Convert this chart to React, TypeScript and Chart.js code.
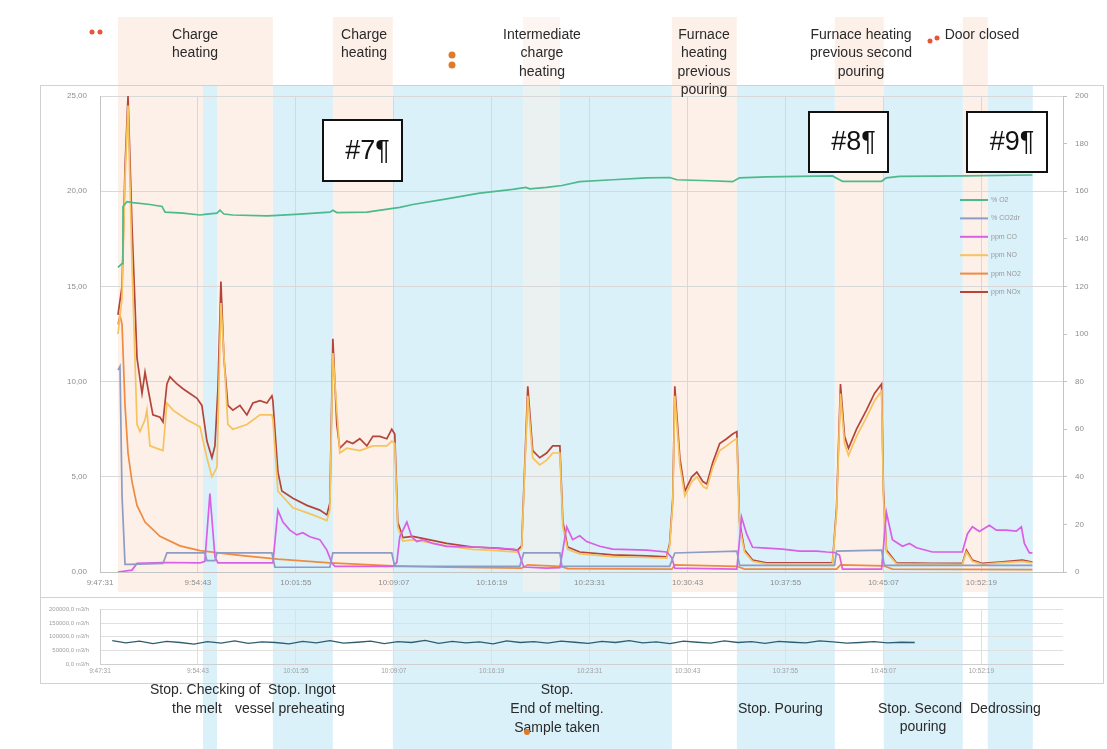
import React, { useEffect, useRef } from 'react';
import { Chart, registerables } from 'chart.js';

Chart.register(...registerables);

// ---------- time axis ----------
const START_CLOCK = [9, 47, 31];
const TICK_MINUTES = [0, 7.2, 14.4, 21.6, 28.8, 36, 43.2, 50.4, 57.6, 64.8];
const X_END_MIN = 70.8;

// ---------- main chart series: [minutes since 9:47:31, value] ----------
const O2: [number, number][] = [
  [1.32, 16.0], [1.62, 16.2], [1.69, 19.2], [1.98, 19.45], [2.42, 19.4], [3.67, 19.3], [4.56, 19.2],
  [4.78, 18.9], [6.1, 18.85], [7.35, 18.75], [7.86, 18.8], [8.6, 18.85], [8.82, 19.0], [9.11, 18.8],
  [9.77, 18.75], [12.27, 18.7], [12.71, 18.72], [14.69, 18.8], [16.9, 18.9], [17.12, 19.0], [17.41, 18.88],
  [19.62, 18.9], [21.53, 19.1], [22.04, 19.15], [23.0, 19.3], [25.49, 19.6], [27.92, 19.9], [30.34, 20.1],
  [31.3, 20.2], [31.6, 20.12], [32.84, 20.2], [33.96, 20.3], [35.27, 20.5], [37.69, 20.6], [40.19, 20.7],
  [41.88, 20.72], [42.41, 20.6], [44.83, 20.55], [46.51, 20.5], [47.02, 20.7], [49.0, 20.75], [51.43, 20.78],
  [53.85, 20.8], [54.37, 20.6], [54.59, 20.52], [57.46, 20.52], [57.82, 20.7], [58.78, 20.78], [63.7, 20.8],
  [68.55, 20.85],
];

const CO2DR: [number, number][] = [
  [1.32, 10.6], [1.47, 10.8], [1.62, 4.0], [1.84, 0.4], [2.2, 0.4], [4.63, 0.45], [4.92, 1.0], [7.71, 1.0],
  [7.86, 0.6], [8.45, 0.6], [8.6, 1.0], [12.64, 1.0], [12.86, 0.25], [16.9, 0.25], [17.12, 1.0], [21.45, 1.0],
  [21.67, 0.3], [30.86, 0.3], [31.15, 1.0], [33.81, 1.0], [33.96, 0.3], [41.88, 0.3], [42.26, 1.0],
  [46.82, 1.1], [47.02, 0.35], [54.0, 0.35], [54.15, 1.1], [57.46, 1.15], [57.67, 0.35], [68.55, 0.35],
];

const CO: [number, number][] = [
  [1.32, 0], [2.35, 0.8], [2.72, 3.6], [4.63, 4.0], [7.35, 3.8], [7.71, 4.5], [8.08, 33], [8.45, 6.4],
  [8.67, 3.8], [12.71, 3.8], [13.08, 26], [13.45, 21], [13.96, 17.6], [14.47, 15.6], [14.91, 16.5],
  [15.43, 14.8], [16.16, 13.6], [16.68, 9.2], [17.05, 3.8], [17.27, 2.4], [21.53, 2.4], [21.82, 4],
  [22.04, 14.8], [22.56, 21], [22.92, 14.8], [23.29, 12.8], [23.73, 13.6], [24.47, 12], [25.49, 10.8],
  [27.92, 10.4], [30.34, 9.6], [30.71, 9.2], [31.15, 2.1], [32.84, 1.6], [33.81, 1.8], [34.31, 19],
  [34.75, 13.6], [35.27, 15.2], [35.78, 12.8], [36.74, 10.8], [37.69, 9.6], [40.19, 9.2], [41.66, 8.4],
  [42.04, 6], [42.26, 1.6], [46.82, 1.2], [47.17, 23], [47.54, 16], [47.98, 10.4], [49.0, 10], [50.18, 9.6],
  [51.43, 8.8], [52.68, 8.8], [53.42, 8.4], [54.0, 8.2], [54.37, 7], [54.59, 1.2], [57.46, 1.2], [57.82, 25],
  [58.26, 13.6], [59.0, 10.8], [59.51, 12], [60.03, 10.2], [61.2, 8.4], [62.45, 8.4], [63.4, 8.4],
  [63.77, 16], [64.14, 19], [64.65, 17], [65.39, 19.6], [65.9, 17.6], [66.64, 17.6], [67.37, 17.2],
  [67.74, 19], [67.96, 12], [68.33, 8], [68.55, 8],
];

const NO: [number, number][] = [
  [1.32, 100], [1.62, 115], [1.84, 165], [2.06, 196], [2.35, 130], [2.72, 62], [2.94, 59], [3.31, 64],
  [3.45, 68], [3.67, 53], [4.63, 51], [4.92, 71], [5.36, 68], [6.39, 64], [7.35, 61], [7.86, 48], [8.23, 40],
  [8.6, 44], [8.89, 113], [9.4, 62], [9.77, 60], [10.8, 62], [11.76, 66], [12.64, 66], [12.71, 64],
  [13.08, 34], [14.18, 27], [15.65, 24], [16.68, 21.6], [16.9, 26], [17.12, 92], [17.63, 50], [18.15, 52],
  [19.1, 51], [20.06, 53], [21.09, 53], [21.45, 55], [21.67, 54], [21.89, 19], [22.26, 13], [23.0, 13.5],
  [24.25, 12.3], [25.49, 11], [27.4, 9.5], [29.17, 9], [30.71, 8.4], [31.0, 10], [31.45, 74], [31.81, 48],
  [32.33, 45], [32.84, 47], [33.28, 50], [33.81, 50], [34.03, 19], [34.38, 9.5], [35.27, 7.6], [37.69, 6.5],
  [40.19, 6.1], [41.66, 5.8], [41.88, 11], [42.11, 29], [42.26, 74], [42.63, 45], [43.0, 32], [43.51, 38],
  [43.88, 40], [44.32, 36], [44.61, 35], [45.05, 44], [45.56, 51], [46.07, 53], [46.51, 55], [46.82, 56],
  [47.02, 19], [47.39, 8.4], [47.98, 4.5], [49.0, 3.4], [53.85, 3.4], [54.15, 25], [54.44, 75], [54.74, 54],
  [55.03, 49], [55.62, 57], [56.35, 65], [56.94, 72], [57.46, 76], [57.6, 31], [57.82, 8.4], [58.56, 3.4],
  [63.4, 3.2], [63.7, 8.4], [64.14, 4.5], [64.87, 3.2], [66.12, 3.8], [67.81, 4.5], [68.55, 3.8],
];

const NO2: [number, number][] = [
  [1.32, 104], [1.47, 108], [1.62, 104], [1.84, 70], [2.06, 50], [2.35, 38], [2.72, 28], [3.31, 21],
  [4.41, 15], [5.88, 11], [7.35, 9], [10.29, 7], [13.08, 5.4], [16.9, 3.8], [21.53, 2.6], [25.49, 2.0],
  [31.0, 1.6], [31.45, 3], [33.81, 2.4], [34.38, 1.4], [42.04, 1.2], [42.26, 3], [46.82, 2.4], [47.39, 1.2],
  [54.15, 1.2], [54.44, 3], [57.6, 2.6], [58.26, 1.2], [68.55, 1.0],
];

const NOX: [number, number][] = [
  [1.32, 108], [1.62, 120], [1.84, 170], [2.06, 200], [2.35, 146], [2.72, 90], [3.09, 75], [3.31, 84],
  [3.53, 77], [3.89, 66], [4.41, 65], [4.63, 63], [4.92, 79], [5.14, 82], [5.66, 79], [6.1, 77], [6.61, 75],
  [7.13, 73], [7.49, 70], [7.86, 55], [8.23, 48], [8.45, 53], [8.67, 77], [8.89, 122], [9.11, 90], [9.4, 70],
  [9.77, 68], [10.29, 70], [10.8, 66], [11.24, 71], [11.76, 72], [12.27, 71], [12.64, 74], [12.71, 72],
  [13.08, 42], [13.37, 34], [14.18, 31], [15.21, 28], [16.16, 26], [16.68, 24], [16.9, 29], [17.12, 98],
  [17.41, 62], [17.63, 52], [18.15, 55], [18.59, 54], [19.1, 56], [19.62, 53], [20.06, 57], [20.57, 57],
  [21.09, 56], [21.45, 60], [21.67, 58], [21.89, 21], [22.26, 14.5], [23.0, 15], [24.25, 13.5], [25.49, 12],
  [27.4, 10.5], [29.17, 10], [30.71, 9.2], [31.0, 11], [31.45, 78], [31.81, 51], [32.33, 48], [32.84, 50],
  [33.28, 53], [33.81, 53], [34.03, 21], [34.38, 10.5], [35.27, 8.4], [37.69, 7.2], [40.19, 6.8],
  [41.66, 6.4], [41.88, 12], [42.11, 31], [42.26, 78], [42.63, 48], [43.0, 34], [43.51, 40], [43.88, 42],
  [44.32, 38], [44.61, 37], [45.05, 46], [45.56, 54], [46.07, 56], [46.51, 58], [46.82, 59], [47.02, 21],
  [47.39, 9.2], [47.98, 5], [49.0, 3.8], [51.43, 3.8], [53.85, 3.8], [54.15, 27], [54.44, 79], [54.74, 57],
  [55.03, 52], [55.62, 60], [56.35, 68], [56.94, 75], [57.46, 79], [57.6, 34], [57.82, 9.2], [58.56, 3.8],
  [61.2, 3.6], [63.4, 3.6], [63.7, 9.2], [64.14, 5], [64.87, 3.6], [66.12, 4.2], [67.81, 5], [68.55, 4.2],
];

// ---------- lower chart (flow, m3/h) ----------
const FLOW_T = [
  0.9, 1.9, 2.9, 3.9, 4.9, 5.9, 6.9, 7.9, 8.9, 9.9, 10.9, 11.9, 12.9, 13.9, 14.9, 15.9, 16.9, 17.9, 18.9, 19.9,
  20.9, 21.9, 22.9, 23.9, 24.9, 25.9, 26.9, 27.9, 28.9, 29.9, 30.9, 31.9, 32.9, 33.9, 34.9, 35.9, 36.9, 37.9,
  38.9, 39.9, 40.9, 41.9, 42.9, 43.9, 44.9, 45.9, 46.9, 47.9, 48.9, 49.9, 50.9, 51.9, 52.9, 53.9, 54.9, 55.9,
  56.9, 57.9, 58.9, 59.9,
];
const FLOW_V = [
  86000, 78000, 84000, 75000, 83000, 79000, 73000, 82000, 77000, 85000,
  76000, 81000, 79000, 74000, 83000, 78000, 86000, 77000, 80000, 84000,
  75000, 82000, 79000, 87000, 76000, 83000, 78000, 81000, 74000, 85000,
  79000, 82000, 77000, 84000, 80000, 76000, 83000, 79000, 86000, 78000,
  81000, 75000, 84000, 80000, 77000, 85000, 79000, 82000, 76000, 83000,
  80000, 78000, 85000, 81000, 77000, 79000, 82000, 78000, 80000, 79000,
];

// ---------- process phases (minutes) ----------
const HEATING_PHASES: [number, number][] = [[1.32, 12.71], [17.12, 21.53], [42.04, 46.82], [54.02, 57.62], [63.43, 65.27]];
const STOP_PHASES: [number, number][] = [[7.57, 8.6], [12.71, 17.12], [21.53, 42.04], [46.82, 54.02], [57.62, 63.43], [65.27, 68.58]];
const INTERMEDIATE_PHASE: [number, number][] = [[31.09, 33.81]];

const SERIES = [
  { label: '% O2', data: O2, color: '#4cba8c', axis: 'y' },
  { label: '% CO2dr', data: CO2DR, color: '#8d9cc4', axis: 'y' },
  { label: 'ppm CO', data: CO, color: '#d95fe3', axis: 'y2' },
  { label: 'ppm NO', data: NO, color: '#f6c35c', axis: 'y2' },
  { label: 'ppm NO2', data: NO2, color: '#ee8b40', axis: 'y2' },
  { label: 'ppm NOx', data: NOX, color: '#b4453b', axis: 'y2' },
];

const TOP_NOTES = [
  { lines: ['Charge', 'heating'], x: 195 },
  { lines: ['Charge', 'heating'], x: 364 },
  { lines: ['Intermediate', 'charge', 'heating'], x: 542 },
  { lines: ['Furnace', 'heating', 'previous', 'pouring'], x: 704 },
  { lines: ['Furnace heating', 'previous second', 'pouring'], x: 861 },
  { lines: ['Door closed'], x: 982 },
];

const BOTTOM_NOTES = [
  { text: 'Stop. Checking of', x: 150, y: 690, align: 'left' },
  { text: 'Stop. Ingot', x: 268, y: 690, align: 'left' },
  { text: 'the melt', x: 172, y: 709, align: 'left' },
  { text: 'vessel preheating', x: 235, y: 709, align: 'left' },
  { text: 'Stop.', x: 557, y: 690, align: 'center' },
  { text: 'End of melting.', x: 557, y: 709, align: 'center' },
  { text: 'Sample taken', x: 557, y: 728, align: 'center' },
  { text: 'Stop. Pouring', x: 738, y: 709, align: 'left' },
  { text: 'Stop. Second', x: 878, y: 709, align: 'left' },
  { text: 'pouring', x: 923, y: 727, align: 'center' },
  { text: 'Dedrossing', x: 970, y: 709, align: 'left' },
];

const BOXES = [
  { text: '#7¶', x: 323, y: 120, w: 79, h: 61 },
  { text: '#8¶', x: 809, y: 112, w: 79, h: 60 },
  { text: '#9¶', x: 967, y: 112, w: 80, h: 60 },
];

const DOTS = [
  { x: 92, y: 32, r: 2.5, c: '#e8553a' }, { x: 100, y: 32, r: 2.5, c: '#e8553a' },
  { x: 452, y: 55, r: 3.5, c: '#e07a28' }, { x: 452, y: 65, r: 3.5, c: '#e07a28' },
  { x: 930, y: 41, r: 2.5, c: '#e8553a' }, { x: 937, y: 38, r: 2.5, c: '#e8553a' },
  { x: 527, y: 732, r: 3, c: '#e07a28' },
];

const FONT = '"Liberation Sans", Arial, sans-serif';

const pad2 = (n: number) => String(n).padStart(2, '0');
function clockLabel(min: number) {
  const s0 = START_CLOCK[0] * 3600 + START_CLOCK[1] * 60 + START_CLOCK[2];
  const s = Math.round(s0 + min * 60);
  return `${Math.floor(s / 3600)}:${pad2(Math.floor((s % 3600) / 60))}:${pad2(s % 60)}`;
}

const decorPlugin = {
  id: 'decor',
  beforeDraw(chart: any) {
    const { ctx } = chart;
    const x = chart.scales.x;
    const px = (v: number) => x.getPixelForValue(v);
    ctx.save();
    ctx.fillStyle = '#fdf0e9';
    HEATING_PHASES.forEach(([a, b]) => ctx.fillRect(px(a), 17, px(b) - px(a), 575));
    ctx.fillStyle = '#fcf5f1';
    INTERMEDIATE_PHASE.forEach(([a, b]) => ctx.fillRect(px(a), 17, px(b) - px(a), 68));
    ctx.fillStyle = '#daf1fa';
    STOP_PHASES.forEach(([a, b]) => ctx.fillRect(px(a), 85, px(b) - px(a), 664));
    ctx.fillStyle = 'rgba(250, 238, 232, 0.55)';
    INTERMEDIATE_PHASE.forEach(([a, b]) => ctx.fillRect(px(a), 85, px(b) - px(a), 507));
    ctx.restore();
  },
  afterDraw(chart: any) {
    const { ctx } = chart;
    ctx.save();
    // frames
    ctx.strokeStyle = '#d2d2d2';
    ctx.lineWidth = 1;
    ctx.strokeRect(40.5, 85.5, 1063, 512);
    ctx.strokeRect(40.5, 597.5, 1063, 86);

    // legend
    ctx.font = `7px ${FONT}`;
    ctx.textBaseline = 'middle';
    ctx.textAlign = 'left';
    SERIES.forEach((s, i) => {
      const y = 200 + i * 18.4;
      ctx.strokeStyle = s.color;
      ctx.lineWidth = 2;
      ctx.beginPath();
      ctx.moveTo(960, y);
      ctx.lineTo(988, y);
      ctx.stroke();
      ctx.fillStyle = '#9a9a9a';
      ctx.fillText(s.label, 991, y);
    });

    // boxes
    BOXES.forEach((b) => {
      ctx.fillStyle = '#ffffff';
      ctx.fillRect(b.x, b.y, b.w, b.h);
      ctx.strokeStyle = '#111';
      ctx.lineWidth = 2;
      ctx.strokeRect(b.x, b.y, b.w, b.h);
      ctx.fillStyle = '#111';
      ctx.font = `27px ${FONT}`;
      ctx.textAlign = 'center';
      ctx.textBaseline = 'middle';
      ctx.fillText(b.text, b.x + b.w / 2 + 5, b.y + b.h / 2 + 1);
    });

    // annotations
    ctx.fillStyle = '#2a2a2a';
    ctx.font = `14px ${FONT}`;
    ctx.textBaseline = 'middle';
    TOP_NOTES.forEach((n) => {
      ctx.textAlign = 'center';
      n.lines.forEach((l, i) => ctx.fillText(l, n.x, 35 + i * 18.5));
    });
    BOTTOM_NOTES.forEach((n) => {
      ctx.textAlign = n.align as CanvasTextAlign;
      ctx.fillText(n.text, n.x, n.y);
    });

    DOTS.forEach((d) => {
      ctx.fillStyle = d.c;
      ctx.beginPath();
      ctx.arc(d.x, d.y, d.r, 0, Math.PI * 2);
      ctx.fill();
    });
    ctx.restore();
  },
};

const xTicksCommon = (size: number, padding: number, color: string) => ({
  callback: (v: any) => clockLabel(Number(v)),
  color,
  font: { size, family: FONT },
  padding,
  maxRotation: 0,
  autoSkip: false,
});

export default function App() {
  const mainRef = useRef<HTMLCanvasElement>(null);
  const lowRef = useRef<HTMLCanvasElement>(null);

  useEffect(() => {
    document.body.style.margin = '0';
    const setTicks = (s: any) => {
      s.ticks = TICK_MINUTES.map((v) => ({ value: v }));
    };

    const main = new Chart(mainRef.current as HTMLCanvasElement, {
      type: 'line',
      data: {
        datasets: SERIES.map((s) => ({
          label: s.label,
          data: s.data.map(([t, v]) => ({ x: t, y: v })),
          borderColor: s.color,
          backgroundColor: s.color,
          borderWidth: 1.7,
          pointRadius: 0,
          tension: 0,
          yAxisID: s.axis,
        })),
      },
      options: {
        responsive: false,
        animation: false,
        layout: { padding: { left: 0, right: 0, top: 96, bottom: 157 } },
        plugins: { legend: { display: false }, tooltip: { enabled: false } },
        scales: {
          x: {
            type: 'linear',
            min: 0,
            max: X_END_MIN,
            afterBuildTicks: setTicks,
            afterFit: (s: any) => { s.height = 20; },
            ticks: xTicksCommon(8, 6, '#8e8e8e'),
            grid: { color: '#d8d8d8', drawTicks: false },
            border: { color: '#c4c4c4' },
          },
          y: {
            position: 'left',
            min: 0,
            max: 25,
            afterFit: (s: any) => { s.width = 100; },
            ticks: {
              stepSize: 5,
              callback: (v: any) => Number(v).toFixed(2).replace('.', ','),
              color: '#8e8e8e',
              font: { size: 8, family: FONT },
              padding: 13,
            },
            grid: { color: '#d8d8d8', drawTicks: false },
            border: { color: '#c4c4c4' },
          },
          y2: {
            position: 'right',
            min: 0,
            max: 200,
            afterFit: (s: any) => { s.width = 44; },
            ticks: { stepSize: 20, color: '#8e8e8e', font: { size: 8, family: FONT }, padding: 8 },
            grid: { drawOnChartArea: false, tickLength: 4, color: '#c4c4c4' },
            border: { color: '#c4c4c4' },
          },
        },
      },
      plugins: [decorPlugin],
    });

    const low = new Chart(lowRef.current as HTMLCanvasElement, {
      type: 'line',
      data: {
        datasets: [
          {
            label: 'Flow',
            data: FLOW_T.map((t, i) => ({ x: t, y: FLOW_V[i] })),
            borderColor: '#2f5d6d',
            borderWidth: 1.3,
            pointRadius: 0,
            tension: 0,
          },
        ],
      },
      options: {
        responsive: false,
        animation: false,
        layout: { padding: { left: 0, right: 44, top: 11, bottom: 14 } },
        plugins: { legend: { display: false }, tooltip: { enabled: false } },
        scales: {
          x: {
            type: 'linear',
            min: 0,
            max: X_END_MIN,
            afterBuildTicks: setTicks,
            afterFit: (s: any) => { s.height = 12; },
            ticks: xTicksCommon(6.5, 3, '#a0a0a0'),
            grid: { color: '#e0e0e0', drawTicks: false },
            border: { color: '#cfcfcf' },
          },
          y: {
            min: 0,
            max: 200000,
            afterFit: (s: any) => { s.width = 100; },
            ticks: {
              stepSize: 50000,
              callback: (v: any) => `${v},0 m3/h`,
              color: '#a0a0a0',
              font: { size: 6, family: FONT },
              padding: 11,
            },
            grid: { color: '#e0e0e0', drawTicks: false },
            border: { color: '#cfcfcf' },
          },
        },
      },
    });

    return () => {
      main.destroy();
      low.destroy();
    };
  }, []);

  return (
    <div style={{ position: 'absolute', left: 0, top: 0, width: 1107, height: 749, background: '#fff' }}>
      <canvas ref={mainRef} width={1107} height={749} style={{ position: 'absolute', left: 0, top: 0 }} />
      <canvas ref={lowRef} width={1107} height={95} style={{ position: 'absolute', left: 0, top: 595 }} />
    </div>
  );
}
